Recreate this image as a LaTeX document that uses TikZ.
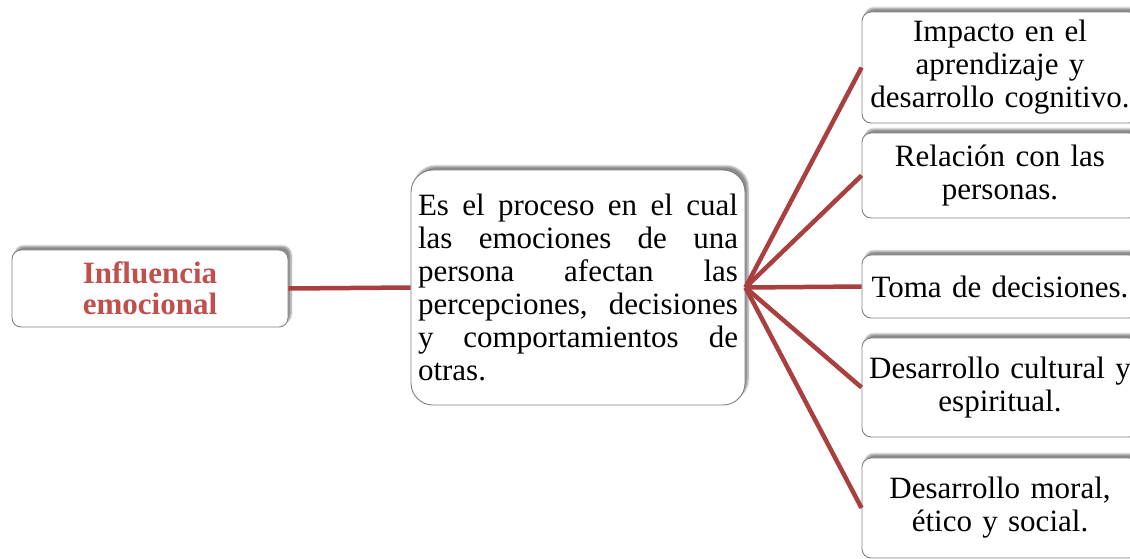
\documentclass[tikz,border=0pt]{standalone}
\usepackage{fontspec}
\setmainfont{Liberation Serif}
\usetikzlibrary{shadows.blur}
\definecolor{linered}{RGB}{169,64,63}
\definecolor{titlered}{RGB}{192,80,77}
\definecolor{boxgray}{RGB}{128,128,128}
\tikzset{
	cajon/.style={draw=boxgray, line width=0.9pt, fill=white, rounded corners=9pt,
		blur shadow={shadow xshift=3pt, shadow yshift=4pt, shadow blur steps=6, shadow opacity=45},
		font=\fontsize{31}{33}\selectfont, inner sep=4pt},
	rama/.style={cajon, minimum width=276pt, text width=268pt, align=center},
	enlace/.style={draw=linered, line width=4.5pt}
}
\begin{document}
\begin{tikzpicture}[x=1pt,y=-1pt]
			%%%%% START %%%%%
			
			\useasboundingbox (0,0) rectangle (1130,558);
			
			\node[cajon, minimum width=276pt, minimum height=77pt, align=center, text=titlered,
				font=\fontsize{31}{31}\selectfont\bfseries] (influencia) at (150,288.5) {Influencia\\emocional};
			
			\node[cajon, rounded corners=22pt, minimum width=334pt, minimum height=235pt,
				text width=320pt, align=justify] (proceso) at (578,287.5)
				{Es el proceso en el cual\linebreak las emociones de una\linebreak persona afectan las\linebreak percepciones, decisiones\linebreak y comportamientos de\linebreak otras.};
			
			\node[rama, minimum height=111pt] (impacto) at (1000,67.5) {Impacto en el\\aprendizaje y\\desarrollo cognitivo.};
			\node[rama, minimum height=85pt] (relacion) at (1000,175.5) {Relación con las\\personas.};
			\node[rama, minimum height=63pt] (toma) at (1000,286.5) {Toma de decisiones.};
			\node[rama, minimum height=99pt] (cultural) at (1000,387.5) {Desarrollo cultural y\\espiritual.};
			\node[rama, minimum height=100pt] (moral) at (1000,508) {Desarrollo moral,\\ético y social.};
			
			\draw[enlace] (influencia.east) -- (proceso.west);
			\foreach \destino in {impacto,relacion,toma,cultural,moral}
				\draw[enlace] (proceso.east) -- (\destino.west);
			
			%%%%% END %%%%%
		\end{tikzpicture}
\end{document}
